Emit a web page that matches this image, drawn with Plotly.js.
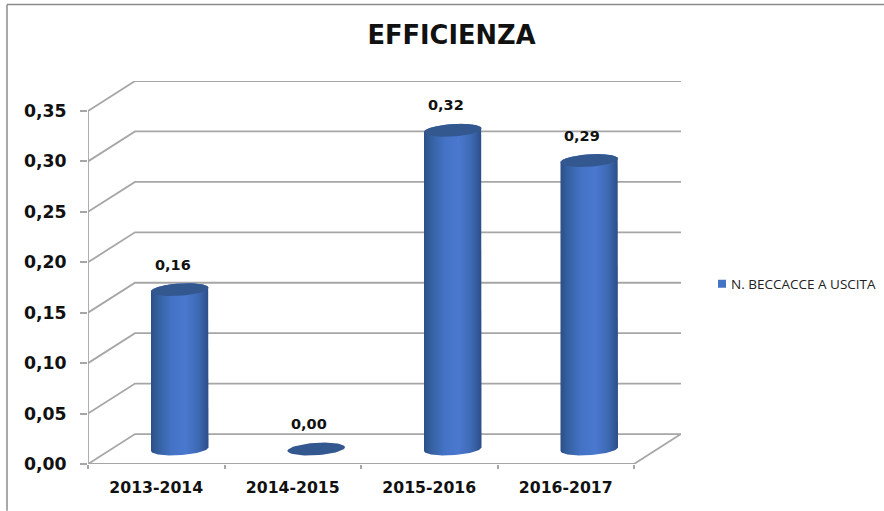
<!DOCTYPE html>
<html><head><meta charset="utf-8">
<script src="https://cdn.plot.ly/plotly-3.0.1.min.js"></script>
<style>html,body{margin:0;padding:0;background:#fff}</style>
</head><body><div id="chart" style="width:884px;height:511px"></div>
<script>
const categories = ['2013-2014','2014-2015','2015-2016','2016-2017'];
const values = [0.158, 0, 0.316, 0.286];
const seriesName = 'N. BECCACCE A USCITA';
const yTicks = [0,0.05,0.10,0.15,0.20,0.25,0.30,0.35];
const chartTitle = 'EFFICIENZA';

const L=88,R=681,T=80.7,B=464.3;
const pxX=136.5, pxY=1010.3;
const depthX=47/pxX, depthY=30/pxY;
const xMax=4+depthX, yMax=0.35+depthY;
const a=28.75/pxX, b=6.2/pxY, s=1.8/pxY;
const GRID='#a6a6a6';
const centres=categories.map((_,i)=>i+0.5);
const cx=i=>i+0.5+depthX/2;

function pt(c,v,t){return [c+a*Math.cos(t), v+depthY/2+b*Math.sin(t)+s*Math.cos(t)];}

const traces=[];
function gridLine(xs,ys){traces.push({x:xs,y:ys,mode:'lines',line:{color:GRID,width:1.8},showlegend:false,hoverinfo:'skip',cliponaxis:false});}
yTicks.forEach(t=>gridLine([0,depthX,xMax],[t,t+depthY,t+depthY]));
gridLine([0,0],[0,0.35]);
gridLine([0,4,xMax],[0,0,depthY]);

traces.push({x:centres.map((c,i)=>cx(i)),y:values.map(v=>v+depthY/2),mode:'markers',name:seriesName,
  marker:{symbol:'square',size:8,color:'#4472c4'},showlegend:true,cliponaxis:false});

values.forEach((v,i)=>{
  const c=cx(i);
  if(v>0){
    const xs=[],ys=[];
    for(let k=0;k<=40;k++){const p=pt(c,0,Math.PI+Math.PI*k/40);xs.push(p[0]);ys.push(p[1]);}
    for(let k=0;k<=40;k++){const p=pt(c,v,Math.PI*k/40);xs.push(p[0]);ys.push(p[1]);}
    xs.push(xs[0]);ys.push(ys[0]);
    traces.push({x:xs,y:ys,mode:'lines',line:{width:0},fill:'toself',
      fillgradient:{type:'horizontal',colorscale:[[0,'#2c4e88'],[0.12,'#34609f'],[0.35,'#4472c4'],[0.6,'#4a78cf'],[0.82,'#3e6ab4'],[1,'#2c4e88']]},
      showlegend:false,hoverinfo:'skip',cliponaxis:false});
  }
  const ex=[],ey=[];
  for(let k=0;k<=60;k++){const p=pt(c,v,2*Math.PI*k/60);ex.push(p[0]);ey.push(p[1]);}
  traces.push({x:ex,y:ey,mode:'lines',line:{width:0},fill:'toself',fillcolor:'#33578f',showlegend:false,hoverinfo:'skip',cliponaxis:false});
});

const layout={
  width:884,height:511,paper_bgcolor:'#fff',plot_bgcolor:'#fff',
  separators:', ',
  margin:{l:L,r:884-R,t:T,b:511-B,pad:0},
  title:{text:'<b>'+chartTitle+'</b>',font:{family:'DejaVu Sans',size:25.7,color:'#111'},x:451.5/884,xanchor:'center',y:1-35/511,yanchor:'middle'},
  xaxis:{range:[0,xMax],tickmode:'array',tickvals:centres,ticktext:categories,ticks:'',showgrid:false,zeroline:false,showline:false,
    tickfont:{family:'DejaVu Sans',size:15.7,color:'#111',weight:'bold'},ticklabelstandoff:12,
    minor:{tickmode:'array',tickvals:[0,1,2,3,4],ticks:'outside',ticklen:4,tickwidth:1.5,tickcolor:GRID,showgrid:false}},
  yaxis:{range:[0,yMax],tickmode:'array',tickvals:yTicks,tickformat:'.2f',ticks:'outside',ticklen:7,tickwidth:1.5,tickcolor:GRID,
    showgrid:false,zeroline:false,showline:false,ticklabelstandoff:10,
    tickfont:{family:'DejaVu Sans',size:17.3,color:'#111',weight:'bold'}},
  legend:{xref:'container',yref:'container',x:691/884,xanchor:'left',y:1-284/511,yanchor:'middle',font:{family:'Open Sans',size:13.5,color:'#222'},itemwidth:30,bgcolor:'rgba(0,0,0,0)'},
  annotations:values.map((v,i)=>({xref:'x',yref:'y',x:cx(i),y:v+depthY/2,text:'<b>'+v.toFixed(2).replace('.',',')+'</b>',showarrow:false,
    xshift:-7,yshift:25,font:{family:'DejaVu Sans',size:14.5,color:'#111'}})),
  shapes:[
    {type:'line',xref:'paper',yref:'paper',x0:(7-L)/(R-L),x1:(7-L)/(R-L),y0:(B-4)/(B-T),y1:(B-511)/(B-T),line:{color:'#8c8c8c',width:1.5}},
    {type:'line',xref:'paper',yref:'paper',x0:(7-L)/(R-L),x1:(884-L)/(R-L),y0:(B-4)/(B-T),y1:(B-4)/(B-T),line:{color:'#8c8c8c',width:1.5}}
  ]
};
Plotly.newPlot('chart',traces,layout,{displayModeBar:false,responsive:false}).then(gd=>{
  gd.querySelectorAll('.legend .legendsymbols').forEach(g=>g.setAttribute('transform','translate(11,0)'));
});
</script></body></html>
